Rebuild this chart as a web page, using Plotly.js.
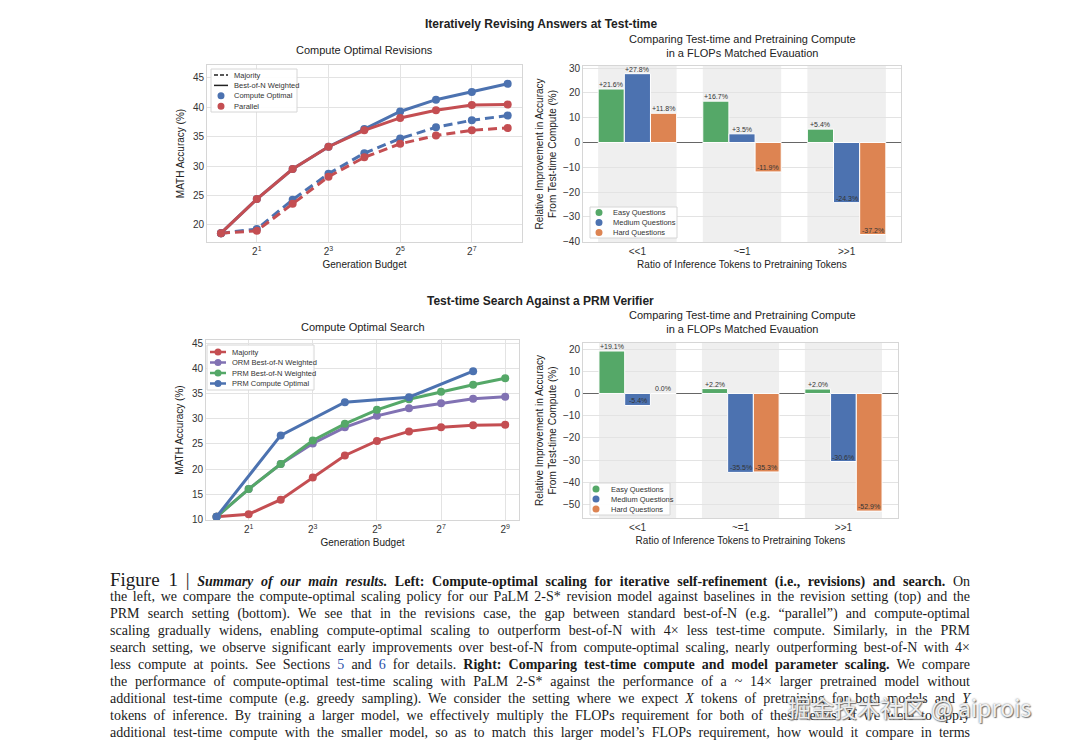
<!DOCTYPE html>
<html>
<head>
<meta charset="utf-8">
<script src="https://cdn.plot.ly/plotly-3.0.1.min.js"></script>
<style>
  html, body { margin:0; padding:0; background:#fff; }
  #wrap { position:relative; width:1080px; height:742px; overflow:hidden; }
  #chart { position:absolute; left:0; top:0; width:1080px; height:742px; }
  #cap { position:absolute; left:110px; top:571px; width:860px; z-index:10;
         font-family:'Liberation Serif','DejaVu Serif',serif; font-size:14px; line-height:17px; color:#1a1a1a; }
  #cap .ln { text-align:justify; text-align-last:justify; height:17px; }
  #cap .big { font-size:19px; }
  #cap .lnk { color:#2b4fa8; }
  #wm { position:absolute; left:788px; top:690px; z-index:11; font-family:'Noto Sans CJK SC','Noto Sans',sans-serif;
        font-size:23px; color:rgba(255,255,255,0.9); text-shadow:0 0 2px #666, 1px 1px 1px #777; white-space:nowrap; }
</style>
</head>
<body>
<div id="wrap">
  <div id="chart"></div>
  <div id="cap">
    <div class="ln"><span class="big">Figure 1</span> <span class="big">|</span> <b><i>Summary of our main results.</i> Left: Compute-optimal scaling for iterative self-refinement (i.e., revisions) and search.</b> On</div>
    <div class="ln">the left, we compare the compute-optimal scaling policy for our PaLM 2-S* revision model against baselines in the revision setting (top) and the</div>
    <div class="ln">PRM search setting (bottom). We see that in the revisions case, the gap between standard best-of-N (e.g. “parallel”) and compute-optimal</div>
    <div class="ln">scaling gradually widens, enabling compute-optimal scaling to outperform best-of-N with 4× less test-time compute. Similarly, in the PRM</div>
    <div class="ln">search setting, we observe significant early improvements over best-of-N from compute-optimal scaling, nearly outperforming best-of-N with 4×</div>
    <div class="ln">less compute at points. See Sections <span class="lnk">5</span> and <span class="lnk">6</span> for details. <b>Right: Comparing test-time compute and model parameter scaling.</b> We compare</div>
    <div class="ln">the performance of compute-optimal test-time scaling with PaLM 2-S* against the performance of a ~ 14× larger pretrained model without</div>
    <div class="ln">additional test-time compute (e.g. greedy sampling). We consider the setting where we expect <i>X</i> tokens of pretraining for both models and <i>Y</i></div>
    <div class="ln">tokens of inference. By training a larger model, we effectively multiply the FLOPs requirement for both of these terms. If we were to apply</div>
    <div class="ln">additional test-time compute with the smaller model, so as to match this larger model’s FLOPs requirement, how would it compare in terms</div>
  </div>
  <div id="wm">掘金技术社区 @ aiprois</div>
</div>
<script>
// ---------- Data ----------
const budgetRev = [1, 2, 4, 8, 16, 32, 64, 128, 256];
const revComputeOptimalBest = [18.6, 24.4, 29.5, 33.3, 36.3, 39.3, 41.3, 42.6, 44.0];
const revParallelBest       = [18.6, 24.4, 29.5, 33.3, 36.1, 38.2, 39.5, 40.4, 40.5];
const revComputeOptimalMaj  = [18.6, 19.3, 24.3, 28.7, 32.2, 34.7, 36.6, 37.8, 38.6];
const revParallelMaj        = [18.6, 19.0, 23.6, 28.2, 31.5, 33.8, 35.2, 36.1, 36.5];

const budgetSearch = [1, 2, 4, 8, 16, 32, 64, 128, 256, 512];
const searchMajority = [10.5, 11.0, 13.9, 18.3, 22.7, 25.6, 27.5, 28.3, 28.7, 28.8];
const searchORM      = [10.5, 16.0, 21.0, 25.1, 28.3, 30.6, 32.1, 33.1, 34.0, 34.4];
const searchPRM      = [10.5, 16.0, 21.0, 25.7, 29.0, 31.8, 33.9, 35.4, 36.8, 38.1];
const budgetPRMOpt   = [1, 4, 16, 64, 256];
const searchPRMOpt   = [10.5, 26.7, 33.3, 34.3, 39.5];

const ratioCats = ['<<1', '~=1', '>>1'];
const revEasy   = [21.6, 16.7, 5.4];
const revMedium = [27.8, 3.5, -24.3];
const revHard   = [11.8, -11.9, -37.2];
const srchEasy   = [19.1, 2.2, 2.0];
const srchMedium = [-5.4, -35.5, -30.6];
const srchHard   = [0.0, -35.3, -52.9];

const revTicks = [2, 8, 32, 128];
const revTickText = ['2<sup>1</sup>', '2<sup>3</sup>', '2<sup>5</sup>', '2<sup>7</sup>'];
const searchTicks = [2, 8, 32, 128, 512];
const searchTickText = ['2<sup>1</sup>', '2<sup>3</sup>', '2<sup>5</sup>', '2<sup>7</sup>', '2<sup>9</sup>'];

const revLegendLabels = ['Majority', 'Best-of-N Weighted', 'Compute Optimal', 'Parallel'];
const searchLegendLabels = ['Majority', 'ORM Best-of-N Weighted', 'PRM Best-of-N Weighted', 'PRM Compute Optimal'];
const difficultyLabels = ['Easy Questions', 'Medium Questions', 'Hard Questions'];

// ---------- Styles ----------
const C = { blue:'#4C72B0', red:'#C44E52', green:'#55A868', orange:'#DD8452', purple:'#8172B3' };
const FONT = 'Liberation Sans, Arial, sans-serif';
const LW = 3, MS = 8;
const DASH = '9px,5px';

const traces = [];
function line(x, y, color, dash, xa, ya, name) {
  return { type:'scatter', mode:'lines+markers', x:x, y:y, xaxis:xa, yaxis:ya, name:name, showlegend:false,
           line:{color:color, width:LW, dash:dash}, marker:{color:color, size:MS}, hoverinfo:'skip' };
}
// Top-left: revisions
traces.push(line(budgetRev, revComputeOptimalMaj, C.blue, DASH, 'x', 'y', 'Compute Optimal Majority'));
traces.push(line(budgetRev, revParallelMaj, C.red, DASH, 'x', 'y', 'Parallel Majority'));
traces.push(line(budgetRev, revComputeOptimalBest, C.blue, 'solid', 'x', 'y', 'Compute Optimal Best-of-N Weighted'));
traces.push(line(budgetRev, revParallelBest, C.red, 'solid', 'x', 'y', 'Parallel Best-of-N Weighted'));
// Bottom-left: search
const searchColors = [C.red, C.purple, C.green, C.blue];
traces.push(line(budgetSearch, searchMajority, searchColors[0], 'solid', 'x3', 'y3', searchLegendLabels[0]));
traces.push(line(budgetSearch, searchORM, searchColors[1], 'solid', 'x3', 'y3', searchLegendLabels[1]));
traces.push(line(budgetSearch, searchPRM, searchColors[2], 'solid', 'x3', 'y3', searchLegendLabels[2]));
traces.push(line(budgetPRMOpt, searchPRMOpt, searchColors[3], 'solid', 'x3', 'y3', searchLegendLabels[3]));

// Bars
const barColors = [C.green, C.blue, C.orange];
function bar(y, color, name, xa, ya) {
  return { type:'bar', x:ratioCats, y:y, xaxis:xa, yaxis:ya, name:name, showlegend:false,
           marker:{color:color, line:{color:'#fff', width:1}}, hoverinfo:'skip' };
}
[revEasy, revMedium, revHard].forEach((s, j) => traces.push(bar(s, barColors[j], difficultyLabels[j], 'x2', 'y2')));
[srchEasy, srchMedium, srchHard].forEach((s, j) => traces.push(bar(s, barColors[j], difficultyLabels[j], 'x4', 'y4')));

// ---------- Annotations / shapes ----------
const annotations = [];
const shapes = [];
function fmt(v) { return (v > 0 ? '+' : '') + v.toFixed(1) + '%'; }
function barLabels(series, xa, ya) {
  series.forEach((s, j) => {
    s.forEach((v, i) => {
      annotations.push({ xref:xa, yref:ya, x:i + (j - 1) * 0.25, y:v, text:fmt(v), showarrow:false,
                         yanchor:'bottom', xanchor:'center', yshift:-1, font:{family:FONT, size:7, color:'#333'} });
    });
  });
}
barLabels([revEasy, revMedium, revHard], 'x2', 'y2');
barLabels([srchEasy, srchMedium, srchHard], 'x4', 'y4');
ratioCats.forEach((c, i) => {
  ['x2', 'x4'].forEach((xa, k) => {
    shapes.push({ type:'rect', xref:xa, yref:(k === 0 ? 'y2' : 'y4') + ' domain', x0:i - 0.375, x1:i + 0.375, y0:0, y1:1,
                  fillcolor:'#efefef', line:{width:0}, layer:'below' });
  });
});

const PX = v => v / 1080, PY = v => 1 - v / 742;
function txt(text, x, y, size, bold) {
  annotations.push({ xref:'paper', yref:'paper', x:PX(x), y:PY(y), text:bold ? '<b>' + text + '</b>' : text,
                     showarrow:false, xanchor:'center', yanchor:'middle', font:{family:FONT, size:size, color:'#222'} });
}
txt('Iteratively Revising Answers at Test-time', 541, 24, 12, true);
txt('Test-time Search Against a PRM Verifier', 540, 301, 12, true);
txt('Compute Optimal Revisions', 364, 50, 11);
txt('Compute Optimal Search', 363, 327, 11);
txt('Comparing Test-time and Pretraining Compute<br>in a FLOPs Matched Evauation', 742, 45.5, 11);
txt('Comparing Test-time and Pretraining Compute<br>in a FLOPs Matched Evauation', 742, 322, 11);

// ---------- Compact legends (matplotlib style) ----------
// box: [left, top, right, bottom] in px; rows: first row centre y, row step, symbol x-range, text x
function legendBox(box, y0, step, symX0, symX1, textX, items) {
  shapes.push({ type:'rect', xref:'paper', yref:'paper', x0:PX(box[0]), x1:PX(box[2]), y0:PY(box[3]), y1:PY(box[1]),
                fillcolor:'rgba(255,255,255,0.9)', line:{color:'#d6d6d6', width:1}, layer:'above' });
  items.forEach((it, k) => {
    const y = y0 + k * step;
    if (it.line) {
      shapes.push({ type:'line', xref:'paper', yref:'paper', x0:PX(symX0), x1:PX(symX1), y0:PY(y), y1:PY(y),
                    line:{color:it.color, width:it.lw || 1.5, dash:it.dash || 'solid'}, layer:'above' });
    }
    if (it.marker) {
      shapes.push({ type:'circle', xref:'paper', yref:'paper', xsizemode:'pixel', ysizemode:'pixel',
                    xanchor:PX((symX0 + symX1) / 2), yanchor:PY(y), x0:-3.5, x1:3.5, y0:-3.5, y1:3.5,
                    fillcolor:it.color, line:{width:0}, layer:'above' });
    }
    annotations.push({ xref:'paper', yref:'paper', x:PX(textX), y:PY(y), text:it.label, showarrow:false,
                       xanchor:'left', yanchor:'middle', font:{family:FONT, size:7.5, color:'#333'} });
  });
}
legendBox([211, 69, 297, 112], 75, 10.4, 214, 228, 232, [
  {label:revLegendLabels[0], line:true, color:'#222', dash:'4px,2px'},
  {label:revLegendLabels[1], line:true, color:'#222'},
  {label:revLegendLabels[2], marker:true, color:C.blue},
  {label:revLegendLabels[3], marker:true, color:C.red}
]);
legendBox([207, 345, 314, 390], 352, 10.5, 210, 226, 230,
  searchLegendLabels.map((l, k) => ({label:l, line:true, marker:true, color:searchColors[k], lw:2.5})));
legendBox([590, 207, 677, 238], 212.5, 10, 595, 603, 611,
  difficultyLabels.map((l, k) => ({label:l, marker:true, color:barColors[k]})));
legendBox([590, 483, 670, 515], 489, 10, 592, 600, 609,
  difficultyLabels.map((l, k) => ({label:l, marker:true, color:barColors[k]})));

// ---------- Axes ----------
const tickFont = {family:FONT, size:10, color:'#333'};
const titleFont = {family:FONT, size:10, color:'#222'};
function dom(a, b) { return [a / 1080, b / 1080]; }
function ydom(top, bottom) { return [1 - bottom / 742, 1 - top / 742]; }
const base = { showgrid:true, gridcolor:'#e3e3e3', gridwidth:1, showline:true, linecolor:'#d6d6d6', linewidth:1,
               mirror:true, zeroline:false, ticks:'', tickfont:tickFont };

const layout = {
  width:1080, height:742, margin:{l:0, r:0, t:0, b:0}, paper_bgcolor:'#fff', plot_bgcolor:'#fff',
  font:{family:FONT, color:'#333'}, barmode:'group', bargap:0.25, bargroupgap:0, showlegend:false,
  xaxis: Object.assign({}, base, { domain:dom(207, 522), anchor:'y', type:'log',
         range:[Math.log10(Math.pow(2, -0.39)), Math.log10(Math.pow(2, 8.4))],
         tickvals:revTicks, ticktext:revTickText, title:{text:'Generation Budget', font:titleFont, standoff:4} }),
  yaxis: Object.assign({}, base, { domain:ydom(65, 242), anchor:'x', range:[17.1, 47.2], tickvals:[20,25,30,35,40,45],
         title:{text:'MATH Accuracy (%)', font:titleFont, standoff:6} }),
  xaxis2: Object.assign({}, base, { domain:dom(583, 901), anchor:'y2', type:'category', range:[-0.52, 2.52],
         showgrid:false, title:{text:'Ratio of Inference Tokens to Pretraining Tokens', font:titleFont, standoff:4} }),
  yaxis2: Object.assign({}, base, { domain:ydom(66, 242), anchor:'x2', range:[-40.2, 30.9], tickvals:[-40,-30,-20,-10,0,10,20,30],
         zeroline:true, zerolinecolor:'#666', zerolinewidth:1.5,
         title:{text:'Relative Improvement in Accuracy<br>From Test-time Compute (%)', font:titleFont, standoff:4} }),
  xaxis3: Object.assign({}, base, { domain:dom(206, 519), anchor:'y3', type:'log',
         range:[Math.log10(Math.pow(2, -0.33)), Math.log10(Math.pow(2, 9.43))],
         tickvals:searchTicks, ticktext:searchTickText, title:{text:'Generation Budget', font:titleFont, standoff:4} }),
  yaxis3: Object.assign({}, base, { domain:ydom(340, 520), anchor:'x3', range:[9.85, 45.7], tickvals:[10,15,20,25,30,35,40,45],
         title:{text:'MATH Accuracy (%)', font:titleFont, standoff:6} }),
  xaxis4: Object.assign({}, base, { domain:dom(583, 898), anchor:'y4', type:'category', range:[-0.53, 2.53],
         showgrid:false, title:{text:'Ratio of Inference Tokens to Pretraining Tokens', font:titleFont, standoff:4} }),
  yaxis4: Object.assign({}, base, { domain:ydom(343, 518), anchor:'x4', range:[-56, 22.7], tickvals:[-50,-40,-30,-20,-10,0,10,20],
         zeroline:true, zerolinecolor:'#666', zerolinewidth:1.5,
         title:{text:'Relative Improvement in Accuracy<br>From Test-time Compute (%)', font:titleFont, standoff:4} }),
  annotations:annotations, shapes:shapes
};

Plotly.newPlot('chart', traces, layout, {staticPlot:true, displayModeBar:false});
</script>
</body>
</html>
